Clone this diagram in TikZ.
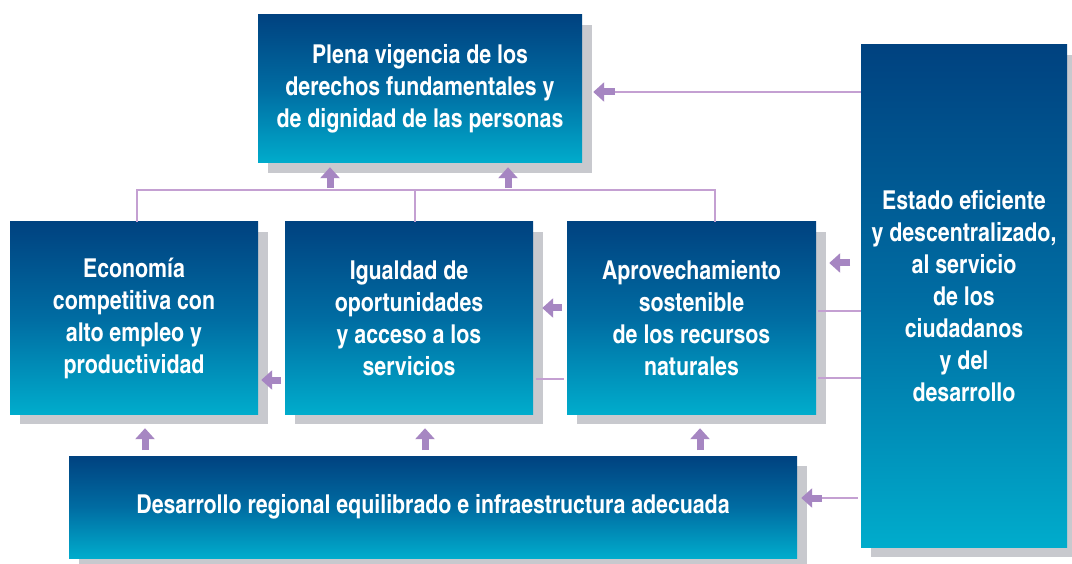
\documentclass[tikz,border=0pt]{standalone}
\usepackage{fontspec}
\setmainfont{texgyreheroscn}[Extension=.otf, UprightFont=*-regular, BoldFont=*-bold]
\usetikzlibrary{arrows.meta,shadows}
\definecolor{topblue}{RGB}{0,66,128}
\definecolor{midblue}{RGB}{0,108,162}
\definecolor{botcyan}{RGB}{0,172,204}
\definecolor{lilac}{RGB}{196,160,210}
\definecolor{arrowc}{RGB}{166,134,194}
\definecolor{shadowc}{RGB}{200,201,206}
\begin{document}
\begin{tikzpicture}[x=1pt,y=-1pt,
  box/.style={rectangle, inner sep=0pt, text=white, align=center,
    font=\bfseries\fontsize{26}{32}\selectfont,
    top color=topblue, bottom color=botcyan, middle color=midblue,
    drop shadow={shadow xshift=10pt, shadow yshift=-10pt, fill=shadowc, opacity=1}},
  conn/.style={draw=lilac, line width=2.4pt},
  arr/.style={draw=arrowc, line width=7pt, -{Triangle[length=11pt,width=19pt]}},
]
\useasboundingbox[fill=white] (0,0) rectangle (1072,564);

\node[box, minimum width=324pt, minimum height=148pt] (top) at (420,89)
  {Plena vigencia de los\\derechos fundamentales y\\de dignidad de las personas};
\node[box, minimum width=206pt, minimum height=502pt] (estado) at (964,296)
  {Estado eficiente\\y descentralizado,\\al servicio\\de los\\ciudadanos\\y del\\desarrollo};
\node[box, minimum width=248pt, minimum height=192pt] (eco) at (134,318)
  {Economía\\competitiva con\\alto empleo y\\productividad};
\node[box, minimum width=248pt, minimum height=192pt] (igu) at (409,318)
  {Igualdad de\\oportunidades\\y acceso a los\\servicios};
\node[box, minimum width=249pt, minimum height=192pt] (apr) at (691.5,318)
  {Aprovechamiento\\sostenible\\de los recursos\\naturales};
\node[box, minimum width=728pt, minimum height=102pt] (reg) at (433,507)
  {Desarrollo regional equilibrado e infraestructura adecuada};

% row to top box
\coordinate (h1) at ([xshift=3pt]eco.north);
\coordinate (h2) at ([xshift=6pt]igu.north);
\coordinate (h3) at ([xshift=23.5pt]apr.north);
\draw[conn] (h1) -- ++(0,-32) -| (h3);
\draw[conn] (h2) -- ++(0,-32);
\draw[arr] ([xshift=-90pt,yshift=-25pt]top.south) -- ([xshift=-90pt,yshift=-4pt]top.south);
\draw[arr] ([xshift=88pt,yshift=-25pt]top.south) -- ([xshift=88pt,yshift=-4pt]top.south);

% estado to top
\coordinate (a1) at ([xshift=11pt,yshift=-3pt]top.east);
\coordinate (a1s) at ([xshift=33pt,yshift=-3pt]top.east);
\draw[conn] (a1 -| estado.west) -- (a1s);
\draw[arr] (a1s) -- (a1);

% estado to aprovechamiento
\draw[arr] ([xshift=34pt,yshift=55pt]apr.east) -- ([xshift=13pt,yshift=55pt]apr.east);
\coordinate (b1) at ([xshift=2pt,yshift=7pt]apr.east);
\coordinate (b2) at ([xshift=2pt,yshift=-60pt]apr.east);
\draw[conn] (b1) -- (b1 -| estado.west);
\draw[conn] (b2) -- (b2 -| estado.west);

% aprovechamiento to igualdad
\draw[arr] ([xshift=29pt,yshift=10pt]igu.east) -- ([xshift=9pt,yshift=10pt]igu.east);
\draw[conn] ([xshift=3pt,yshift=-61pt]igu.east) -- ([xshift=-3pt,yshift=-61pt]apr.west);

% igualdad to economia
\draw[arr] ([xshift=23pt,yshift=-62pt]eco.east) -- ([xshift=3pt,yshift=-62pt]eco.east);

% regional to row
\draw[arr] ([xshift=11pt,yshift=-36pt]eco.south) -- ([xshift=11pt,yshift=-14pt]eco.south);
\draw[arr] ([xshift=16pt,yshift=-36pt]igu.south) -- ([xshift=16pt,yshift=-14pt]igu.south);
\draw[arr] ([xshift=8.5pt,yshift=-36pt]apr.south) -- ([xshift=8.5pt,yshift=-14pt]apr.south);

% estado to regional
\coordinate (c1) at ([xshift=4pt,yshift=9pt]reg.east);
\coordinate (c1s) at ([xshift=25pt,yshift=9pt]reg.east);
\draw[conn] (c1s) -- ([xshift=-3pt]c1s -| estado.west);
\draw[arr] (c1s) -- (c1);
\end{tikzpicture}
\end{document}
